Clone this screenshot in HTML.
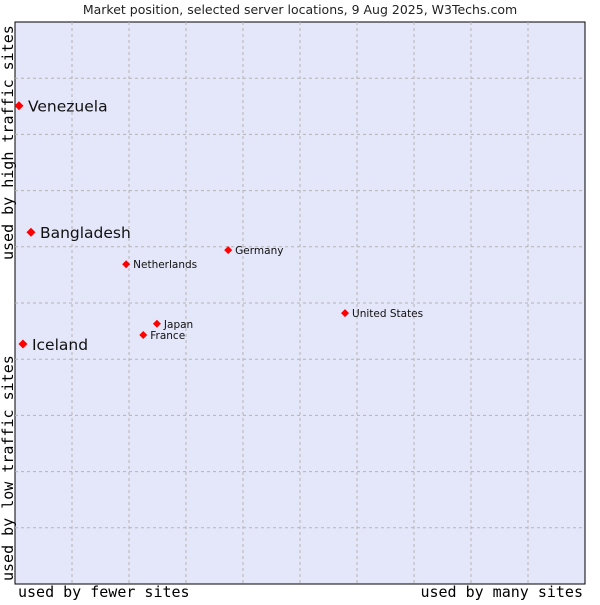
<!DOCTYPE html>
<html><head><meta charset="utf-8"><style>
body{margin:0;background:#fff;width:600px;height:600px;overflow:hidden}
svg text{font-family:"DejaVu Sans",sans-serif}
.mono{font-family:"DejaVu Sans Mono","Liberation Mono",monospace;font-size:15px;fill:#000}
</style></head><body>
<svg id="chart" width="600" height="600">
<text x="300" y="14" text-anchor="middle" font-size="12.5" fill="#222">Market position, selected server locations, 9 Aug 2025, W3Techs.com</text>
<rect x="15" y="22" width="570" height="562" fill="#e4e6f9" stroke="#000" stroke-width="1"/>
<g id="grid"></g>
<g id="points"></g>
<text class="mono" x="18" y="597">used by fewer sites</text>
<text class="mono" x="583" y="597" text-anchor="end">used by many sites</text>
<text class="mono" transform="translate(13,581) rotate(-90)">used by low traffic sites</text>
<text class="mono" transform="translate(13,260) rotate(-90)">used by high traffic sites</text>
</svg>
<script>
const names=["Venezuela","Bangladesh","Iceland","Germany","Netherlands","United States","Japan","France"];
const xVals=[0.7,2.8,1.4,37.4,19.5,57.9,24.9,22.5];
const yVals=[85.1,62.6,42.7,59.4,56.9,48.2,46.3,44.3];
const bigLabel=[true,true,true,false,false,false,false,false];
const NS="http://www.w3.org/2000/svg";
const X0=15,X1=585,Y0=584,Y1=22;
const xs=v=>X0+v/100*(X1-X0), ys=v=>Y0-v/100*(Y0-Y1);
const grid=document.getElementById('grid');
for(let i=1;i<10;i++){
  let l=document.createElementNS(NS,'line');
  
  
  l.setAttribute('x1',xs(i*10));l.setAttribute('x2',xs(i*10));l.setAttribute('y1',Y1);l.setAttribute('y2',Y0);
  l.setAttribute('stroke','#b4b4b4');l.setAttribute('stroke-dasharray','3,3');grid.appendChild(l);
  let h=document.createElementNS(NS,'line');
  
  
  h.setAttribute('y1',ys(i*10));h.setAttribute('y2',ys(i*10));h.setAttribute('x1',X0);h.setAttribute('x2',X1);
  h.setAttribute('stroke','#b4b4b4');h.setAttribute('stroke-dasharray','3,3');grid.appendChild(h);
}
const pts=document.getElementById('points');
names.forEach((n,i)=>{
  const x=xs(xVals[i]),y=ys(yVals[i]),r=bigLabel[i]?4.5:4;
  let p=document.createElementNS(NS,'polygon');
  
  
  p.setAttribute('points',`${x},${y-r} ${x+r},${y} ${x},${y+r} ${x-r},${y}`);
  p.setAttribute('fill','#f00');pts.appendChild(p);
  let t=document.createElementNS(NS,'text');
  
  
  t.setAttribute('x',x+(bigLabel[i]?9:7));t.setAttribute('y',y+(bigLabel[i]?6:4));
  t.setAttribute('font-size',bigLabel[i]?'15.5':'10.5');t.setAttribute('fill','#111');
  t.textContent=n;pts.appendChild(t);
});
</script>
</body></html>
